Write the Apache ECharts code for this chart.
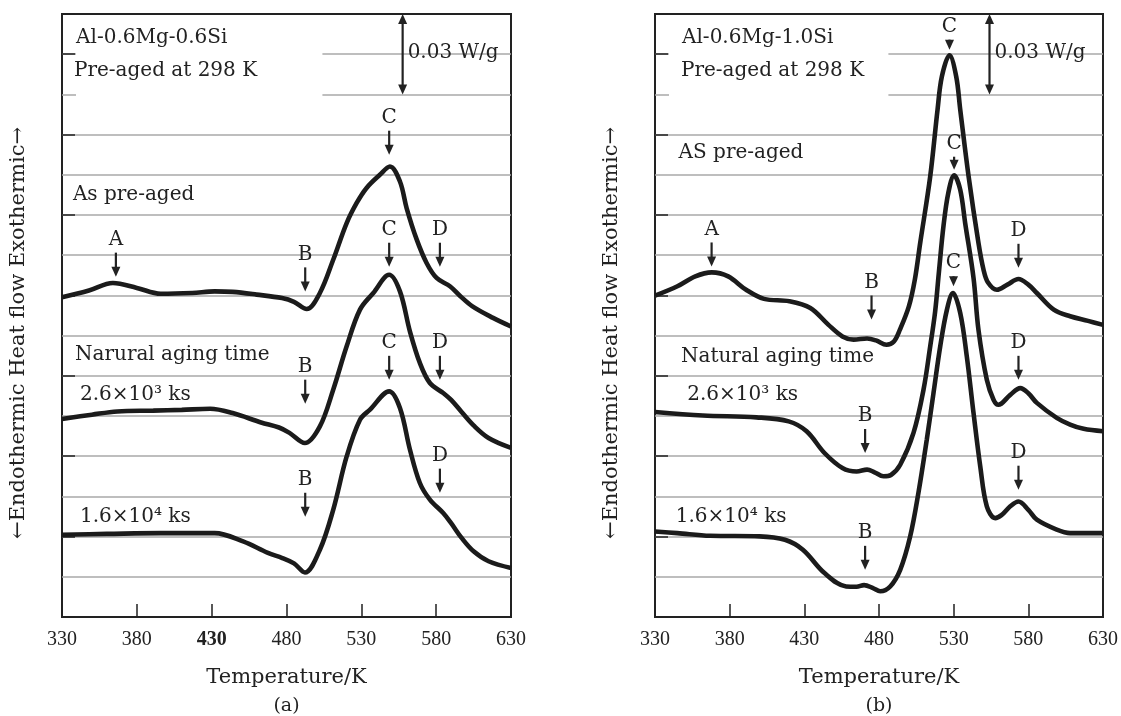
<!DOCTYPE html>
<html>
<head>
<meta charset="utf-8">
<title>DSC curves Al-Mg-Si</title>
<script src="https://cdn.jsdelivr.net/npm/echarts@6/dist/echarts.min.js"></script>
<style>
  html, body { margin: 0; padding: 0; background: #fff; }
  #chart { width: 1121px; height: 716px; }
</style>
</head>
<body>
<div id="chart"></div>
<script>
// temperature (K) / heat flow (mW/g, curves shifted)

// (a) Al-0.6Mg-0.6Si
const aPreT = [330, 348, 364, 380, 396, 417, 432, 444, 460, 477, 485, 493.5, 502.3, 511.2, 520.2, 526.9, 533.5, 542.4, 549.1, 555.8, 560.3, 566.9, 573.6, 580.3, 589.2, 596, 604, 618, 630]
const aPreQ = [119.3, 121.8, 124.6, 122.8, 120.6, 120.9, 121.5, 121.3, 120.3, 119.0, 117.6, 114.9, 120.9, 133.3, 147, 154.5, 160.1, 165, 168.1, 162.5, 152.5, 141, 132.1, 126.5, 123.4, 119.8, 116, 111.6, 108.4]
const a26T = [330, 350, 367, 391, 410, 429, 444, 463, 475, 482, 492.3, 502.3, 511.2, 520.2, 529.1, 538, 548.6, 555.8, 562.5, 569.1, 575.8, 584.7, 590, 597, 605, 615, 630]
const a26Q = [73.9, 75.5, 76.7, 77, 77.3, 77.7, 76.1, 72.6, 70.7, 68.7, 64.9, 71.1, 84.8, 101, 114.7, 120.9, 127.7, 121.5, 106.5, 94.8, 87.3, 83.6, 81, 76.5, 71.5, 66.8, 63.1]
const a16T = [330, 360, 396, 432, 451, 467.6, 477.2, 485, 492.3, 502.3, 511.2, 520.2, 529.1, 535.8, 548.6, 555.8, 562.5, 569.1, 575.8, 584.7, 590, 597, 605, 615, 630]
const a16Q = [30.7, 31, 31.3, 31.3, 28.2, 23.9, 22, 20, 16.6, 25.1, 40, 59.9, 73.6, 77.4, 84.2, 78, 62.4, 50, 43.8, 38.8, 35, 29.5, 24.5, 20.8, 18.3]

// (b) Al-0.6Mg-1.0Si
const bPreT = [330, 345, 357, 368, 379, 391, 403, 420, 434, 446, 455.5, 463, 472, 478, 485, 490, 494, 500, 504, 507.6, 514.3, 519.2, 522.1, 527.2, 531.7, 534.4, 540, 546.6, 550, 553, 558.9, 566, 573.4, 580, 585.7, 597, 608, 620, 630]
const bPreQ = [119.9, 123.4, 127.1, 128.6, 127.1, 122.1, 118.7, 117.8, 115.3, 109.1, 104.7, 103.5, 103.9, 103.2, 101.6, 102.8, 107.2, 115.9, 125.9, 139.6, 164.4, 189.3, 201.7, 209.6, 201.7, 189.3, 164.4, 139.6, 129.6, 124.8, 122.1, 124, 126.1, 124, 120.9, 114.7, 112.2, 110.5, 109]
const b26T = [330, 362, 398, 419.5, 431.5, 443.5, 455.5, 465, 472, 477, 483, 488, 494.2, 503.1, 509.8, 514.3, 517.6, 520, 523.2, 526.5, 530.3, 534.4, 537.7, 543.3, 546.6, 552.2, 556.7, 560, 567.9, 574.6, 580, 585.7, 599, 608, 617, 630]
const b26Q = [76.5, 75.2, 74.5, 73, 69.3, 61.2, 55.6, 54.3, 55, 54, 52.5, 53, 56.8, 68.7, 84.8, 101, 114, 128, 146, 158.5, 164.8, 159.4, 147, 126.5, 107.2, 88.5, 81.1, 79.2, 82.9, 85.4, 83.5, 79.9, 74.3, 71.8, 70.2, 69.3]
const b16T = [330, 345, 367, 400, 417, 429, 443.5, 458, 465, 470, 476, 480.8, 487.5, 494.2, 500.9, 506.4, 512, 516.5, 521, 525.5, 529.5, 534.4, 538.8, 543.3, 547.8, 552.2, 557.8, 562, 567.9, 573.4, 580, 585.7, 599, 608, 630]
const b16Q = [31.9, 31.3, 30.3, 30.1, 28.8, 25.1, 16.4, 11.4, 11.3, 11.9, 10.8, 9.6, 11.4, 17.6, 30.1, 46.3, 66.2, 83.6, 101, 114.7, 120.9, 113.4, 97.2, 76.1, 56.2, 41.3, 36.9, 38, 41.3, 43.1, 40, 36.3, 32.6, 31.3, 31.3]

// x axis tick labels
const xTicks = [330, 380, 430, 480, 530, 580, 630]

// peak markers: letter, temperature, heat flow at the arrow tip
const aMarkLabel = ['A', 'B', 'C', 'C', 'D', 'B', 'C', 'D', 'B', 'D']
const aMarkT = [366, 492.5, 548.6, 548.6, 582.5, 492.5, 548.6, 582.5, 492.5, 582.5]
const aMarkQ = [127, 121.5, 172.5, 130.7, 130.7, 79.6, 88.5, 88.5, 37.4, 46.4]
const bMarkLabel = ['A', 'B', 'C', 'C', 'D', 'B', 'C', 'D', 'B', 'D']
const bMarkT = [367.9, 475, 527.2, 530.3, 573.4, 470.7, 529.9, 573.4, 470.7, 573.4]
const bMarkQ = [130.8, 111, 211.7, 166.9, 130.3, 61.2, 123.4, 88.5, 17.6, 47.5]

const SERIF = '"DejaVu Serif", serif'
const TICK_FONT = '"Liberation Serif", serif'
const INK = '#222'

const chart = echarts.init(document.getElementById('chart'))

const zip = (t, q) => t.map((x, i) => [x, q[i]])

const makeX = (idx, boldTick) => ({
  type: 'value',
  gridIndex: idx,
  min: xTicks[0],
  max: xTicks[xTicks.length - 1],
  interval: 50,
  axisLine: { show: true, lineStyle: { color: INK, width: 2 } },
  axisTick: { inside: true, length: 13, lineStyle: { color: INK, width: 1.5 } },
  axisLabel: {
    margin: 13,
    showMinLabel: true,
    showMaxLabel: true,
    color: INK,
    fontFamily: TICK_FONT,
    fontSize: 20,
    formatter: v => (v === boldTick ? '{b|' + v + '}' : '{n|' + v + '}'),
    rich: {
      n: { fontFamily: TICK_FONT, fontSize: 20, color: INK },
      b: { fontWeight: 'bold', fontFamily: TICK_FONT, fontSize: 20, color: INK }
    }
  },
  splitLine: { show: false },
  name: 'Temperature/K',
  nameLocation: 'middle',
  nameGap: 50,
  nameTextStyle: { fontFamily: SERIF, fontSize: 21, color: INK }
})

// one y axis carries the grey lines, the other the ticks (every second line)
const makeY = idx => [
  {
    type: 'value', gridIndex: idx, position: 'left', min: 0, max: 225, interval: 15,
    axisLine: { show: false }, axisTick: { show: false }, axisLabel: { show: false },
    splitLine: { show: true, showMinLine: false, showMaxLine: false, lineStyle: { color: '#a9a9a9', width: 1.5 } }
  },
  {
    type: 'value', gridIndex: idx, position: 'left', offset: 0, min: 0, max: 225, interval: 30,
    axisLine: { show: false }, axisLabel: { show: false }, splitLine: { show: false },
    axisTick: { show: true, inside: true, length: 13, lineStyle: { color: INK, width: 1.5 } }
  }
]

const curve = (idx, t, q) => ({
  type: 'line',
  xAxisIndex: idx,
  yAxisIndex: idx * 2,
  data: zip(t, q),
  symbol: 'none',
  smooth: 0.35,
  lineStyle: { color: '#1b1b1b', width: 4.6 },
  z: 3
})

chart.setOption({
  animation: false,
  backgroundColor: '#fff',
  grid: [
    { left: 62, right: 610, top: 14, bottom: 99, show: true, borderColor: INK, borderWidth: 2 },
    { left: 655, right: 18, top: 14, bottom: 99, show: true, borderColor: INK, borderWidth: 2 }
  ],
  xAxis: [makeX(0, 430), makeX(1, null)],
  yAxis: [...makeY(0), ...makeY(1)],
  series: [
    curve(0, aPreT, aPreQ), curve(0, a26T, a26Q), curve(0, a16T, a16Q),
    curve(1, bPreT, bPreQ), curve(1, b26T, b26Q), curve(1, b16T, b16Q)
  ]
})

// ---- annotations ----
const px = (p, t, q) => chart.convertToPixel({ xAxisIndex: p, yAxisIndex: p * 2 }, [t, q])

const txt = (x, y, text, size, align) => ({
  type: 'text', x, y, z: 20,
  style: { text, font: size + 'px ' + SERIF, fill: INK, align: align || 'left', verticalAlign: 'middle' }
})

const downArrow = (x, tip, len) => {
  const head = 10
  return [
    { type: 'line', z: 20, shape: { x1: x, y1: tip - len, x2: x, y2: tip - head + 1 }, style: { stroke: INK, lineWidth: 2.2 } },
    { type: 'polygon', z: 20, shape: { points: [[x - 4.5, tip - head], [x + 4.5, tip - head], [x, tip]] }, style: { fill: INK } }
  ]
}

const panels = [
  {
    title: 'Al-0.6Mg-0.6Si', pre: 'As pre-aged', nat: 'Narural aging time', tag: '(a)',
    boxEndT: 504, scaleT: 557.6,
    at: { title: [339.4, 216.3], sub: [338, 203.8], pre: [337.3, 157.6], nat: [338.7, 97.9], t1: [342, 83], t2: [342, 37.5] },
    labels: aMarkLabel, marksT: aMarkT, marksQ: aMarkQ, shortC: false
  },
  {
    title: 'Al-0.6Mg-1.0Si', pre: 'AS pre-aged', nat: 'Natural aging time', tag: '(b)',
    boxEndT: 486.3, scaleT: 554,
    at: { title: [348.1, 216.3], sub: [347.4, 203.8], pre: [345.8, 173.1], nat: [347.4, 97.1], t1: [351.6, 83], t2: [343.9, 37.5] },
    labels: bMarkLabel, marksT: bMarkT, marksQ: bMarkQ, shortC: true
  }
]

const graphic = []
panels.forEach((p, i) => {
  const [x0, yBottom] = px(i, 330, 0)
  const [x1, yTop] = px(i, 630, 225)
  const [boxX, boxY] = px(i, p.boxEndT, 194)

  // white label box hiding the top grey lines
  graphic.push({
    type: 'rect', z: 1,
    shape: { x: x0 + 14, y: yTop + 2, width: boxX - x0 - 14, height: boxY - yTop - 2 },
    style: { fill: '#fff' }
  })

  const put = (key, text) => {
    const [x, y] = px(i, p.at[key][0], p.at[key][1])
    graphic.push(txt(x, y, text, 20))
  }
  put('title', p.title)
  put('sub', 'Pre-aged at 298 K')
  put('pre', p.pre)
  put('nat', p.nat)
  put('t1', '2.6\u00d710\u00b3 ks')
  put('t2', '1.6\u00d710\u2074 ks')

  // scale bar 0.03 W/g = 30 mW/g
  const [sx, sTop] = px(i, p.scaleT, 225)
  const [, sBot] = px(i, p.scaleT, 195)
  graphic.push(
    { type: 'line', z: 20, shape: { x1: sx, y1: sTop + 9, x2: sx, y2: sBot - 9 }, style: { stroke: INK, lineWidth: 2.2 } },
    { type: 'polygon', z: 20, shape: { points: [[sx - 4.5, sTop + 10], [sx + 4.5, sTop + 10], [sx, sTop]] }, style: { fill: INK } },
    { type: 'polygon', z: 20, shape: { points: [[sx - 4.5, sBot - 10], [sx + 4.5, sBot - 10], [sx, sBot]] }, style: { fill: INK } }
  )
  const [, sMid] = px(i, p.scaleT, 210)
  graphic.push(txt(sx + 5, sMid - 1, '0.03 W/g', 20))

  // peak markers
  p.labels.forEach((lab, k) => {
    const [x, tip] = px(i, p.marksT[k], p.marksQ[k])
    const len = p.shortC && lab === 'C' ? (k === 3 ? 13 : 10) : 24
    graphic.push(...downArrow(x, tip, len))
    graphic.push(txt(x, tip - len - 13, lab, 20, 'center'))
  })

  // y axis title and panel tag
  const [, yMid] = px(i, 330, 106)
  graphic.push({
    type: 'text', x: x0 - 43, y: yMid, rotation: Math.PI / 2, z: 20,
    style: { text: '\u2190Endothermic Heat flow Exothermic\u2192', font: '21px ' + SERIF, fill: INK, align: 'center', verticalAlign: 'middle' }
  })
  graphic.push(txt((x0 + x1) / 2, yBottom + 89, p.tag, 19, 'center'))
})

chart.setOption({ graphic })
</script>
</body>
</html>
